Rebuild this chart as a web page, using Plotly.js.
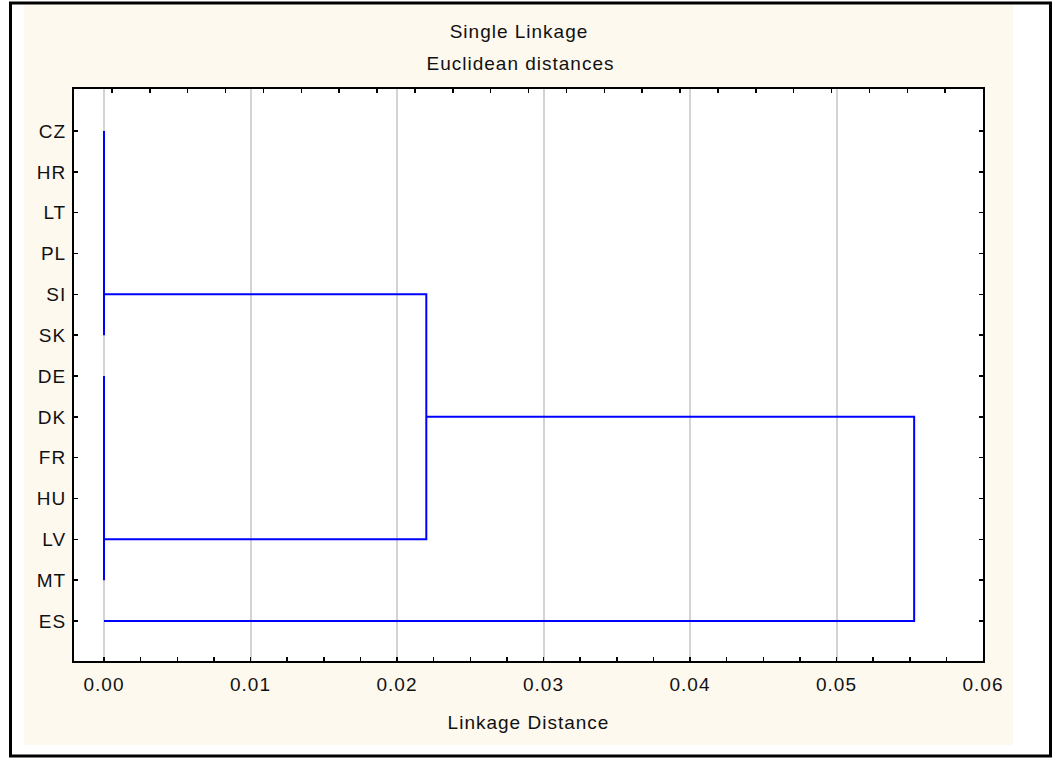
<!DOCTYPE html>
<html>
<head>
<meta charset="utf-8">
<script src="https://cdn.plot.ly/plotly-3.0.1.min.js"></script>
<style>
  html, body { margin: 0; padding: 0; background: #ffffff; }
  #chart { width: 1063px; height: 761px; }
  #chart svg text { letter-spacing: 1px; }
</style>
</head>
<body>
<div id="chart"></div>
<script>
// Leaf order (top to bottom)
const labels = ['CZ','HR','LT','PL','SI','SK','DE','DK','FR','HU','LV','MT','ES'];

// Groups of leaves joined at linkage distance 0
const zeroGroupFirst = ['CZ','DE'];
const zeroGroupLast  = ['SK','MT'];

// Merges: linkage distance, upper child (row + its height), lower child (row + its height)
const mergeDistance   = [0.0220, 0.0553];
const mergeUpperRow   = ['SI', 'DK'];
const mergeUpperFrom  = [0.0, 0.0220];
const mergeLowerRow   = ['LV', 'ES'];
const mergeLowerFrom  = [0.0, 0.0];

// x axis ticks
const xTickVals = [0, 0.01, 0.02, 0.03, 0.04, 0.05, 0.06];
const xTickText = ['0.00','0.01','0.02','0.03','0.04','0.05','0.06'];

const idx = l => labels.indexOf(l);

const lx = [], ly = [];
for (let i = 0; i < zeroGroupFirst.length; i++) {
  lx.push(0, 0, null);
  ly.push(idx(zeroGroupFirst[i]), idx(zeroGroupLast[i]), null);
}
for (let i = 0; i < mergeDistance.length; i++) {
  const d = mergeDistance[i];
  lx.push(mergeUpperFrom[i], d, d, mergeLowerFrom[i], null);
  ly.push(idx(mergeUpperRow[i]), idx(mergeUpperRow[i]), idx(mergeLowerRow[i]), idx(mergeLowerRow[i]), null);
}

const FONT = '"Liberation Sans", Arial, sans-serif';
const TXT = '#111111';
const FS = 19;
const W = 1063, H = 761;
const L = 74, R = 80, T = 89, B = 100;
const pw = W - L - R, ph = H - T - B;
const px = p => (p - L) / pw;
const py = p => (H - B - p) / ph;

const traces = [
  {
    x: lx, y: ly, mode: 'lines', type: 'scatter',
    line: { color: '#0000ff', width: 2 },
    hoverinfo: 'skip', showlegend: false, connectgaps: false
  },
  {
    x: [0], y: [0], xaxis: 'x2', mode: 'markers',
    marker: { opacity: 0 }, hoverinfo: 'skip', showlegend: false
  }
];

const layout = {
  width: W, height: H,
  margin: { l: L, r: R, t: T, b: B, pad: 0 },
  paper_bgcolor: '#ffffff',
  plot_bgcolor: '#ffffff',
  font: { family: FONT, size: FS, color: TXT },
  showlegend: false,
  title: {
    text: 'Single Linkage',
    font: { family: FONT, size: FS, color: TXT },
    x: 519 / W, xanchor: 'center',
    y: 1 - 31.5 / H, yref: 'container', yanchor: 'middle'
  },
  annotations: [
    {
      text: 'Euclidean distances', showarrow: false,
      xref: 'paper', yref: 'paper', x: px(520), y: py(63),
      xanchor: 'center', yanchor: 'middle',
      font: { family: FONT, size: FS, color: TXT }
    }
  ],
  xaxis: {
    range: [-0.002048, 0.06],
    tickvals: xTickVals, ticktext: xTickText,
    ticks: 'inside', ticklen: 4, tickwidth: 1.5, tickcolor: '#000',
    minor: { dtick: 0.0025, tick0: 0, ticks: 'inside', ticklen: 4, tickwidth: 1.5, tickcolor: '#000', showgrid: false },
    showgrid: true, gridcolor: '#d3d3d3', gridwidth: 2,
    showline: true, linecolor: '#000', linewidth: 2, mirror: false,
    zeroline: false,
    tickfont: { family: FONT, size: FS, color: TXT },
    ticklabelstandoff: 5,
    title: { text: 'Linkage Distance', standoff: 22, font: { family: FONT, size: FS, color: TXT } },
    fixedrange: true
  },
  xaxis2: {
    overlaying: 'x', side: 'top', range: [0, 24], dtick: 1, tick0: 0,
    ticks: 'inside', ticklen: 4, tickwidth: 1.5, tickcolor: '#000',
    showticklabels: false, showgrid: false, zeroline: false,
    showline: true, linecolor: '#000', linewidth: 2, fixedrange: true
  },
  yaxis: {
    range: [12.98, -1.03],
    tickvals: labels.map((_, i) => i), ticktext: labels,
    ticks: 'inside', ticklen: 4, tickwidth: 1.5, tickcolor: '#000',
    showgrid: false, zeroline: false,
    showline: true, linecolor: '#000', linewidth: 2, mirror: 'ticks',
    tickfont: { family: FONT, size: FS, color: TXT },
    ticklabelstandoff: 2,
    fixedrange: true
  },
  shapes: [
    { type: 'rect', xref: 'paper', yref: 'paper', layer: 'below',
      x0: px(24), x1: px(1013), y0: py(745), y1: py(4),
      fillcolor: '#fdf9ef', line: { width: 0 } },
    { type: 'rect', xref: 'paper', yref: 'paper', layer: 'below',
      x0: 0, x1: 1, y0: 0, y1: 1,
      fillcolor: '#ffffff', line: { width: 0 } },
    { type: 'rect', xref: 'paper', yref: 'paper', layer: 'above',
      x0: px(10.5), x1: px(1050.5), y0: py(756), y1: py(3),
      fillcolor: 'rgba(0,0,0,0)', line: { color: '#000', width: 3 } }
  ]
};

Plotly.newPlot('chart', traces, layout, { staticPlot: true, displayModeBar: false });
</script>
</body>
</html>
